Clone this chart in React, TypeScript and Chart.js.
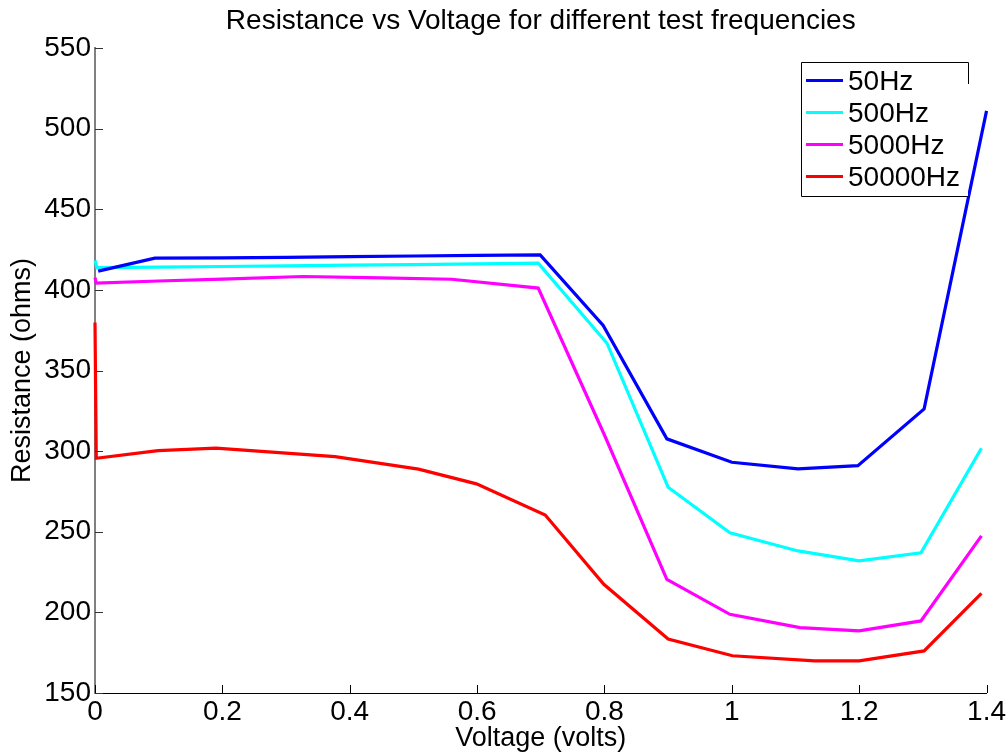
import React, { useEffect, useRef } from "react";
import { Chart, registerables } from "chart.js";

Chart.register(...registerables);

const chartTitle = "Resistance vs Voltage for different test frequencies";
const xAxisTitle = "Voltage (volts)";
const yAxisTitle = "Resistance (ohms)";

const seriesNames = ["50Hz", "500Hz", "5000Hz", "50000Hz"];
const seriesColors = ["#0000ff", "#00ffff", "#ff00ff", "#ff0000"];

const x50 = [0.005, 0.094, 0.2, 0.3, 0.4, 0.5, 0.6, 0.699, 0.798, 0.898, 1.0, 1.104, 1.198, 1.302, 1.4];
const y50 = [411.6, 419.7, 419.8, 420.2, 420.6, 421.0, 421.4, 421.7, 377.9, 307.6, 293.1, 289.0, 291.0, 326.2, 511.0];

const x500 = [0, 0.003, 0.1, 0.2, 0.3, 0.4, 0.5, 0.6, 0.696, 0.804, 0.9, 0.997, 1.104, 1.2, 1.297, 1.392];
const y500 = [418.3, 413.8, 414.1, 414.5, 414.9, 415.3, 415.7, 416.1, 416.6, 366.9, 277.6, 249.4, 238.1, 231.9, 237.0, 301.8];

const x5000 = [0, 0.002, 0.1, 0.2, 0.327, 0.45, 0.56, 0.696, 0.8, 0.898, 0.997, 1.107, 1.2, 1.297, 1.392];
const y5000 = [407.6, 404.2, 405.5, 406.7, 408.3, 407.5, 406.6, 401.1, 310.0, 220.5, 198.8, 190.5, 188.5, 194.7, 247.4];

const x50000 = [0, 0.002, 0.099, 0.19, 0.377, 0.508, 0.599, 0.707, 0.799, 0.9, 1.001, 1.13, 1.2, 1.302, 1.392];
const y50000 = [379.7, 295.6, 300.3, 301.8, 296.6, 288.8, 279.7, 260.4, 217.4, 183.5, 173.1, 169.9, 169.9, 176.1, 211.8];

const xTickValues = [0, 0.2, 0.4, 0.6, 0.8, 1.0, 1.2, 1.4];
const xTickLabels = ["0", "0.2", "0.4", "0.6", "0.8", "1", "1.2", "1.4"];
const yTickValues = [150, 200, 250, 300, 350, 400, 450, 500, 550];
const yTickLabels = ["150", "200", "250", "300", "350", "400", "450", "500", "550"];

const FONT = "'Liberation Sans', Arial, Helvetica, sans-serif";

const toPoints = (xs: number[], ys: number[]) => xs.map((x, i) => ({ x, y: ys[i] }));

const decorPlugin = {
  id: "matlabDecor",
  afterDatasetsDraw(chart: any) {
    const ctx = chart.ctx;
    const xs = chart.scales.x;
    const ys = chart.scales.y;
    const area = chart.chartArea;
    ctx.save();
    // inward ticks
    ctx.lineWidth = 1;
    ctx.strokeStyle = "#000000";
    xTickValues.forEach((v) => {
      const px = Math.round(xs.getPixelForValue(v)) + 0.5;
      ctx.beginPath();
      ctx.moveTo(px, area.bottom);
      ctx.lineTo(px, area.bottom - 8);
      ctx.stroke();
    });
    ctx.strokeStyle = "#333333";
    yTickValues.forEach((v) => {
      const py = Math.round(ys.getPixelForValue(v)) + 0.5;
      ctx.beginPath();
      ctx.moveTo(area.left, py);
      ctx.lineTo(area.left + 8, py);
      ctx.stroke();
    });

    // title
    ctx.fillStyle = "#000000";
    ctx.font = `28px ${FONT}`;
    ctx.textAlign = "center";
    ctx.textBaseline = "alphabetic";
    ctx.fillText(chartTitle, (area.left + area.right) / 2, 29);

    // legend
    const lx0 = 801, ly0 = 62, lx1 = 968, ly1 = 196;
    ctx.fillStyle = "#ffffff";
    ctx.fillRect(lx0, ly0, lx1 - lx0, ly1 - ly0);
    ctx.strokeStyle = "#000000";
    ctx.lineWidth = 1;
    ctx.beginPath();
    ctx.moveTo(lx0 + 0.5, ly1 + 0.5);
    ctx.lineTo(lx0 + 0.5, ly0 + 0.5);
    ctx.lineTo(lx1 + 0.5, ly0 + 0.5);
    ctx.lineTo(lx1 + 0.5, ly0 + 22);
    ctx.moveTo(lx0 + 0.5, ly1 + 0.5);
    ctx.lineTo(lx1 + 0.5, ly1 + 0.5);
    ctx.stroke();
    ctx.font = `28px ${FONT}`;
    ctx.textAlign = "left";
    seriesNames.forEach((name, i) => {
      const cy = 80.5 + i * 32;
      ctx.strokeStyle = seriesColors[i];
      ctx.lineWidth = 3;
      ctx.beginPath();
      ctx.moveTo(806, cy);
      ctx.lineTo(843, cy);
      ctx.stroke();
      ctx.fillStyle = "#000000";
      ctx.fillText(name, 848, cy + 9.5);
    });
    ctx.restore();
  },
};

export default function App() {
  const canvasRef = useRef<HTMLCanvasElement | null>(null);

  useEffect(() => {
    if (!canvasRef.current) return;
    const seriesX = [x50, x500, x5000, x50000];
    const seriesY = [y50, y500, y5000, y50000];
    const chart = new Chart(canvasRef.current, {
      type: "line",
      data: {
        datasets: seriesNames.map((name, i) => ({
          label: name,
          data: toPoints(seriesX[i], seriesY[i]),
          borderColor: seriesColors[i],
          backgroundColor: seriesColors[i],
          borderWidth: 3.2,
          pointRadius: 0,
          tension: 0,
          fill: false,
          clip: false as any,
        })),
      },
      options: {
        animation: false,
        responsive: false,
        maintainAspectRatio: false,
        layout: { padding: { top: 48, right: 21, bottom: 0, left: 0 } },
        plugins: {
          legend: { display: false },
          title: { display: false },
          tooltip: { enabled: false },
        },
        scales: {
          x: {
            type: "linear",
            min: 0,
            max: 1.4,
            afterFit: (s: any) => {
              s.height = 62;
            },
            afterBuildTicks: (s: any) => {
              s.ticks = xTickValues.map((v) => ({ value: v }));
            },
            ticks: {
              padding: 2,
              color: "#000000",
              font: { family: FONT, size: 28 },
              maxRotation: 0,
              autoSkip: false,
              callback: (v: any) => {
                const idx = xTickValues.findIndex((t) => Math.abs(t - Number(v)) < 1e-6);
                return idx >= 0 ? xTickLabels[idx] : "";
              },
            },
            grid: { display: true, drawOnChartArea: false, drawTicks: false },
            border: { display: true, color: "#000000", width: 1 },
            title: {
              display: true,
              text: xAxisTitle,
              color: "#000000",
              font: { family: FONT, size: 27 },
              padding: { top: 0, bottom: 0 },
            },
          },
          y: {
            type: "linear",
            min: 150,
            max: 550,
            afterFit: (s: any) => {
              s.width = 95;
            },
            afterBuildTicks: (s: any) => {
              s.ticks = yTickValues.map((v) => ({ value: v }));
            },
            ticks: {
              padding: 4,
              color: "#000000",
              font: { family: FONT, size: 28 },
              autoSkip: false,
              callback: (v: any) => {
                const idx = yTickValues.findIndex((t) => Math.abs(t - Number(v)) < 1e-6);
                return idx >= 0 ? yTickLabels[idx] : "";
              },
            },
            grid: { display: true, drawOnChartArea: false, drawTicks: false },
            border: { display: true, color: "#808080", width: 2 },
            title: {
              display: true,
              text: yAxisTitle,
              color: "#000000",
              font: { family: FONT, size: 27 },
              padding: { top: 6, bottom: 0 },
            },
          },
        },
      },
      plugins: [decorPlugin],
    });
    return () => chart.destroy();
  }, []);

  return (
    <div style={{ position: "absolute", left: 0, top: 0, width: 1008, height: 755, background: "#ffffff" }}>
      <canvas ref={canvasRef} width={1008} height={755} style={{ display: "block", width: 1008, height: 755 }} />
    </div>
  );
}
